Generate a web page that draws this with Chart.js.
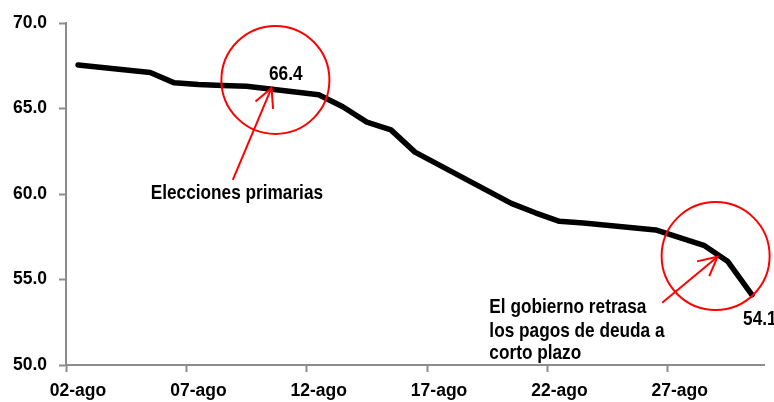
<!DOCTYPE html>
<html>
<head>
<meta charset="utf-8">
<script src="https://cdn.jsdelivr.net/npm/chart.js@4"></script>
<style>
  html, body { margin: 0; padding: 0; background: #fff; }
  #wrap { width: 774px; height: 402px; position: relative; }
</style>
</head>
<body>
<div id="wrap"><canvas id="c" width="774" height="402"></canvas></div>
<script>
// ---- data ----
const categories = ['02-ago','03-ago','04-ago','05-ago','06-ago','07-ago','08-ago','09-ago','10-ago','11-ago',
  '12-ago','13-ago','14-ago','15-ago','16-ago','17-ago','18-ago','19-ago','20-ago','21-ago',
  '22-ago','23-ago','24-ago','25-ago','26-ago','27-ago','28-ago','29-ago','30-ago'];
const values = [67.55, null, null, 67.1, 66.5, 66.4, 66.35, 66.3, null, null,
  65.8, 65.1, 64.2, 63.75, 62.45, null, null, null, 59.45, 58.9,
  58.4, 58.3, null, null, 57.9, 57.45, 57.0, 56.05, 54.1];
const yTicks = [50, 55, 60, 65, 70];
const labelEvery = 5;

const FONT = "'Liberation Sans', Arial, sans-serif";
const TICK_SIZE = 17.5;
const NOTE_SIZE = 21;      // drawn horizontally condensed, like Arial Narrow Bold
const NOTE_SQUEEZE = 0.82;
const AXIS_GRAY = '#8c8c8c';
const RED = '#ff0000';

// annotations expressed in data units (category index, value)
const notes = {
  circles: [ {x: 8.2, y: 66.67, r: 54}, {x: 26.49, y: 56.37, r: 54} ],
  arrows: [ {from: [6.43, 60.82], to: [8.04, 66.2]}, {from: [24.27, 53.64], to: [26.57, 56.33]} ],
  texts: [
    {text: '66.4', x: 8.63, y: 66.67, align: 'center'},
    {text: 'Elecciones primarias', x: 6.6, y: 59.69, align: 'center'},
    {text: 'El gobierno retrasa', x: 17.09, y: 53.02, align: 'left'},
    {text: 'los pagos de deuda a', x: 17.09, y: 51.64, align: 'left'},
    {text: 'corto plazo', x: 17.09, y: 50.35, align: 'left'},
    {text: '54.1', x: 27.63, y: 52.34, align: 'left'}
  ]
};

const annotPlugin = {
  id: 'annot',
  afterDatasetsDraw(chart) {
    const ctx = chart.ctx;
    const xs = chart.scales.x, ys = chart.scales.y;
    const px = v => xs.getPixelForValue(v), py = v => ys.getPixelForValue(v);
    ctx.save();
    ctx.strokeStyle = RED;
    ctx.lineWidth = 2;
    notes.circles.forEach(c => {
      ctx.beginPath();
      ctx.arc(px(c.x), py(c.y), c.r, 0, Math.PI * 2);
      ctx.stroke();
    });
    notes.arrows.forEach(a => {
      const x0 = px(a.from[0]), y0 = py(a.from[1]);
      const x1 = px(a.to[0]), y1 = py(a.to[1]);
      ctx.beginPath();
      ctx.moveTo(x0, y0); ctx.lineTo(x1, y1); ctx.stroke();
      const ang = Math.atan2(y0 - y1, x0 - x1);
      const L = 21, spread = 27 * Math.PI / 180;
      ctx.beginPath();
      ctx.moveTo(x1 + L * Math.cos(ang - spread), y1 + L * Math.sin(ang - spread));
      ctx.lineTo(x1, y1);
      ctx.lineTo(x1 + L * Math.cos(ang + spread), y1 + L * Math.sin(ang + spread));
      ctx.stroke();
    });
    ctx.fillStyle = '#000';
    ctx.font = 'bold ' + NOTE_SIZE + 'px ' + FONT;
    ctx.textBaseline = 'alphabetic';
    notes.texts.forEach(t => {
      ctx.save();
      ctx.translate(px(t.x), py(t.y));
      ctx.scale(NOTE_SQUEEZE, 1);
      ctx.textAlign = t.align;
      ctx.fillText(t.text, 0, 0);
      ctx.restore();
    });
    ctx.restore();
  }
};

new Chart(document.getElementById('c'), {
  type: 'line',
  data: {
    labels: categories,
    datasets: [{
      data: values,
      borderColor: '#000',
      borderWidth: 5.5,
      pointRadius: 0,
      pointHoverRadius: 0,
      tension: 0,
      spanGaps: true,
      borderJoinStyle: 'round',
      borderCapStyle: 'round',
      fill: false
    }]
  },
  options: {
    responsive: false,
    animation: false,
    events: [],
    layout: { padding: { top: 23, right: 10, left: 0, bottom: 0 } },
    plugins: { legend: { display: false }, tooltip: { enabled: false } },
    scales: {
      x: {
        type: 'category',
        offset: true,
        afterFit: s => { s.height = 37; },
        grid: {
          offset: true,
          drawOnChartArea: false,
          drawTicks: true,
          tickLength: 7,
          tickWidth: 2,
          tickColor: c => (c.index !== undefined && c.index % labelEvery === 0) ? AXIS_GRAY : 'rgba(0,0,0,0)'
        },
        border: { display: true, color: AXIS_GRAY, width: 2 },
        ticks: {
          autoSkip: false,
          maxRotation: 0,
          minRotation: 0,
          padding: 9,
          color: '#000',
          font: { family: FONT, size: TICK_SIZE, weight: 'bold' },
          callback: (v, i) => (i % labelEvery === 0) ? categories[i] : ''
        }
      },
      y: {
        min: yTicks[0],
        max: yTicks[yTicks.length - 1],
        afterFit: s => { s.width = 66; },
        afterBuildTicks: s => { s.ticks = yTicks.map(v => ({ value: v })); },
        grid: {
          drawOnChartArea: false,
          drawTicks: true,
          tickLength: 7,
          tickWidth: 2,
          tickColor: AXIS_GRAY
        },
        border: { display: true, color: AXIS_GRAY, width: 2 },
        ticks: {
          padding: 12,
          color: '#000',
          font: { family: FONT, size: TICK_SIZE, weight: 'bold' },
          callback: v => Number(v).toFixed(1)
        }
      }
    }
  },
  plugins: [annotPlugin]
});
</script>
</body>
</html>
